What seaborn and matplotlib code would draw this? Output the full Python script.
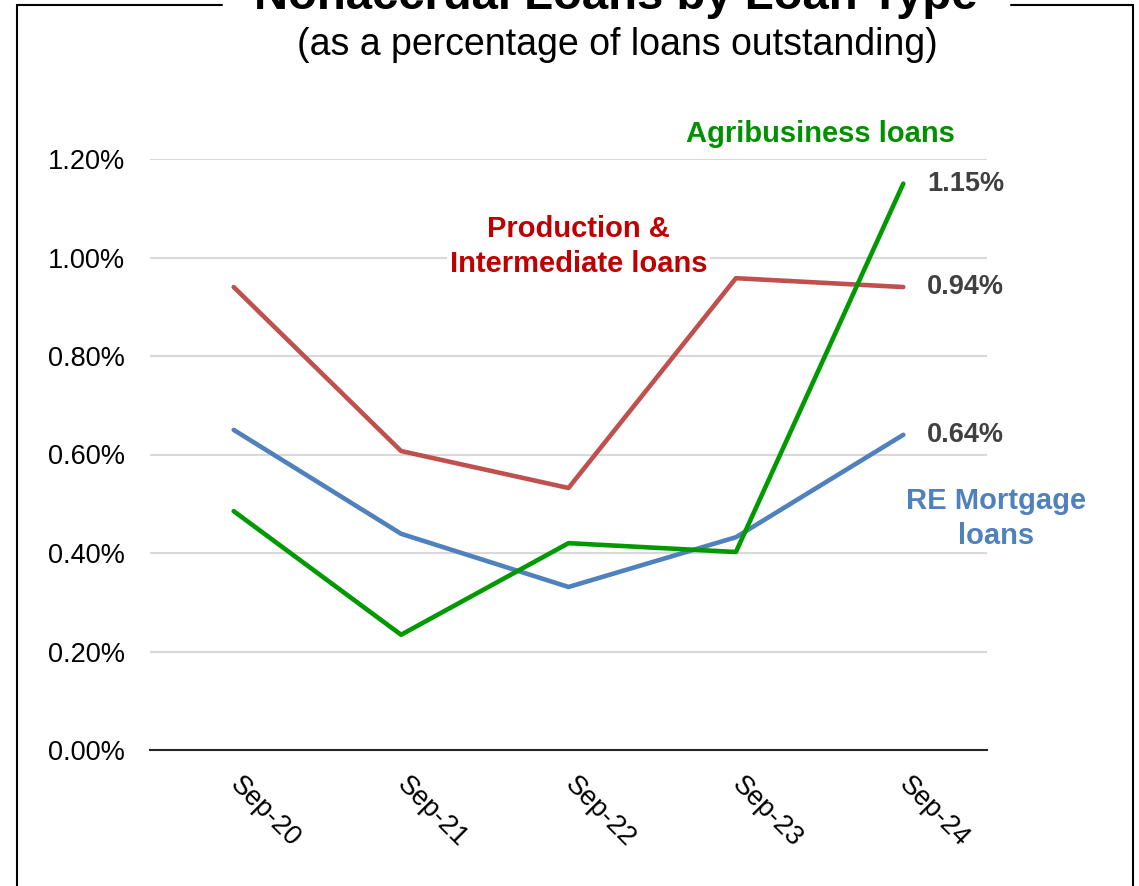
import matplotlib
matplotlib.use("Agg")
import matplotlib.pyplot as plt
from matplotlib.lines import Line2D
import pandas as pd
import seaborn as sns

# Nonaccrual loans as a percentage of loans outstanding
periods = ["Sep-20", "Sep-21", "Sep-22", "Sep-23", "Sep-24"]
production_intermediate = [0.940, 0.607, 0.532, 0.958, 0.94]
re_mortgage = [0.650, 0.439, 0.331, 0.432, 0.64]
agribusiness = [0.485, 0.234, 0.420, 0.402, 1.15]

series_names = ["Production & Intermediate", "RE Mortgage", "Agribusiness"]
line_colors = ["#C0504D", "#4F81BD", "#009900"]
y_ticks = [0.0, 0.2, 0.4, 0.6, 0.8, 1.0, 1.2]

df = pd.DataFrame({
    "period": periods * 3,
    "value": production_intermediate + re_mortgage + agribusiness,
    "series": [n for n in series_names for _ in periods],
})

sns.set_style("white")
plt.rcParams["font.family"] = ["Liberation Sans", "DejaVu Sans"]

W, H = 1139, 886
fig = plt.figure(figsize=(W / 100, H / 100), dpi=100)
ax = fig.add_axes([150 / W, 1 - 750 / H, (987 - 150) / W, (750 - 159) / H])

sns.lineplot(data=df, x="period", y="value", hue="series", hue_order=series_names,
             palette=dict(zip(series_names, line_colors)), sort=False,
             linewidth=3.3, solid_capstyle="round", legend=False, ax=ax)

ax.set_xlim(-0.5, len(periods) - 0.5)
ax.set_ylim(0, 1.2)
ax.set_yticks(y_ticks)
ax.set_yticklabels([f"{t:.2f}%" for t in y_ticks], fontsize=19.5, color="#000000")
ax.set_xticks(range(len(periods)))
ax.set_xticklabels(periods, rotation=-45, rotation_mode="anchor",
                   ha="left", va="center", fontsize=19.5, color="#000000")
ax.tick_params(axis="y", length=0, pad=18)
ax.tick_params(axis="x", length=0, pad=22)
ax.set_xlabel("")
ax.set_ylabel("")

ax.yaxis.grid(True, color="#D9D9D9", linewidth=1.5)
ax.set_axisbelow(True)
for side in ["top", "right", "left"]:
    ax.spines[side].set_visible(False)
ax.spines["bottom"].set_color("#262626")
ax.spines["bottom"].set_linewidth(1.5)
ax.spines["bottom"].set_zorder(3)

# End-point value labels
last = len(periods) - 1
for vals in (agribusiness, production_intermediate, re_mortgage):
    ax.annotate(f"{vals[last]:.2f}%", xy=(last, vals[last]), xytext=(17, 0),
                textcoords="offset points", ha="left", va="center",
                fontsize=19.5, fontweight="bold", color="#404040",
                annotation_clip=False)

# Series labels
ax.text(3.504, 1.251, "Agribusiness loans", ha="center", va="center",
        fontsize=21, fontweight="bold", color="#009000", clip_on=False)
ax.text(2.06, 1.023, "Production &\nIntermediate loans", ha="center", va="center",
        fontsize=21, fontweight="bold", color="#C00000", linespacing=1.32,
        bbox=dict(facecolor="white", edgecolor="none", pad=2), zorder=4, clip_on=False)
ax.text(4.555, 0.471, "RE Mortgage\nloans", ha="center", va="center",
        fontsize=21, fontweight="bold", color="#4F81BD", linespacing=1.32, clip_on=False)

# Outer frame, open at the top where the title sits
def fig_line(x0, y0, x1, y1):
    fig.add_artist(Line2D([x0 / W, x1 / W], [1 - y0 / H, 1 - y1 / H],
                          transform=fig.transFigure, color="black", linewidth=1.5))

fig_line(17, 5, 222, 5)
fig_line(1011, 5, 1133, 5)
fig_line(17, 5, 17, H + 5)
fig_line(1133, 5, 1133, H + 5)

fig.text(616 / W, 1 - 9 / H, "Nonaccrual Loans by Loan Type", ha="center", va="baseline",
         fontsize=34, fontweight="bold", color="black")
fig.text(617 / W, 1 - 45 / H, "(as a percentage of loans outstanding)", ha="center",
         va="center", fontsize=27, color="black")

fig.savefig("out.png", dpi=100, facecolor="white")
